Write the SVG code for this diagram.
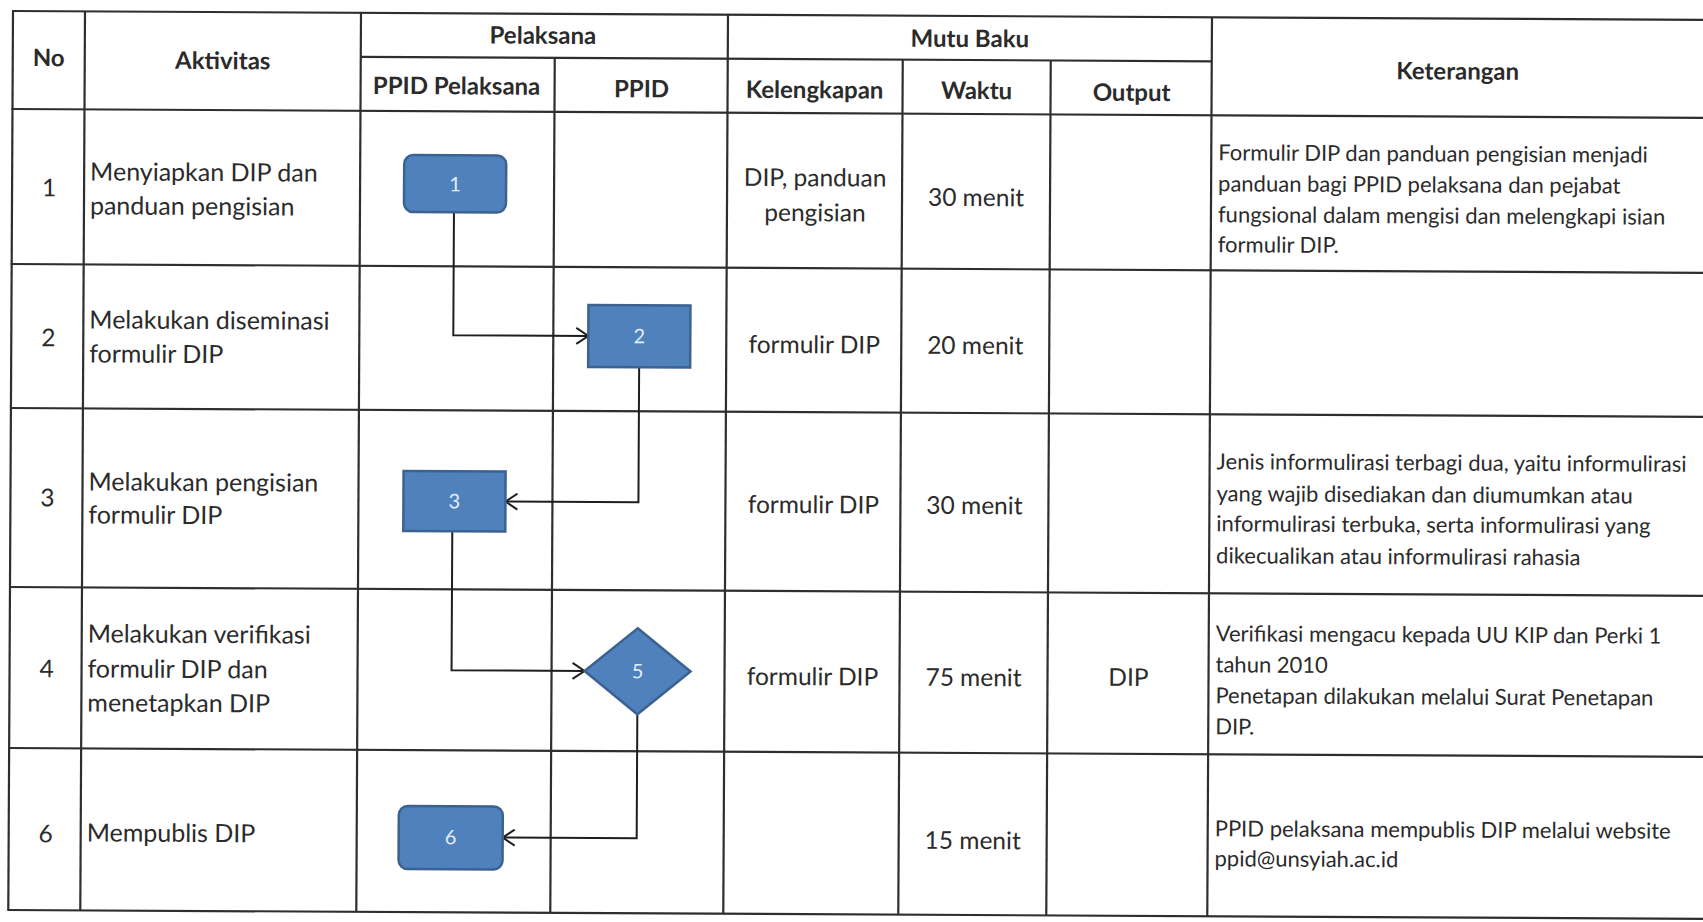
<svg xmlns="http://www.w3.org/2000/svg" width="1703" height="922" viewBox="0 0 1703 922">
<defs>
<style>
.grid line{stroke:#2e2e2e;stroke-width:2.2}
text{font-family:Lato,"Open Sans","Liberation Sans",sans-serif;fill:#2b2b2b}
.h{font-weight:bold;font-size:24px;text-anchor:middle}
.c{font-size:24.5px;text-anchor:middle}
.a{font-size:25px}
.k{font-size:22px}
.box{fill:#4f81bd;stroke:#3b6291;stroke-width:2.5}
.lbl{font-size:20px;fill:#e4ecf7;text-anchor:middle}
.conn path{fill:none;stroke:#1e1e1e;stroke-width:2;marker-end:url(#arr)}
</style>
<marker id="arr" markerUnits="userSpaceOnUse" markerWidth="16" markerHeight="18" refX="13" refY="9" orient="auto" viewBox="0 0 16 18"><path d="M1,1 L13,9 L1,17" fill="none" stroke="#1e1e1e" stroke-width="2"/></marker>
</defs>
<rect width="1703" height="922" fill="#fff"/>
<g transform="rotate(0.3 13 11)">
<g id="grid" class="grid">
<line x1="12" y1="11" x2="1720" y2="11"/>
<line x1="361" y1="55" x2="1212" y2="55"/>
<line x1="12" y1="109" x2="1720" y2="109"/>
<line x1="12" y1="264" x2="1720" y2="264"/>
<line x1="12" y1="408" x2="1720" y2="408"/>
<line x1="12" y1="587" x2="1720" y2="587"/>
<line x1="12" y1="748" x2="1720" y2="748"/>
<line x1="12" y1="910" x2="1720" y2="910"/>
<line x1="13" y1="11" x2="13" y2="910"/>
<line x1="85" y1="11" x2="85" y2="910"/>
<line x1="361" y1="11" x2="361" y2="910"/>
<line x1="555" y1="55" x2="555" y2="910"/>
<line x1="728" y1="11" x2="728" y2="910"/>
<line x1="903" y1="55" x2="903" y2="910"/>
<line x1="1051" y1="55" x2="1051" y2="910"/>
<line x1="1212" y1="11" x2="1212" y2="910"/>
</g>
<g id="header">
<text class="h" x="49" y="66">No</text>
<text class="h" x="223" y="68">Aktivitas</text>
<text class="h" x="543" y="41">Pelaksana</text>
<text class="h" x="970" y="42">Mutu Baku</text>
<text class="h" x="457" y="92">PPID Pelaksana</text>
<text class="h" x="642" y="94">PPID</text>
<text class="h" x="815" y="94">Kelengkapan</text>
<text class="h" x="977" y="94">Waktu</text>
<text class="h" x="1132" y="95">Output</text>
<text class="h" x="1458" y="72">Keterangan</text>
</g>
<g id="cells">
<text class="c" x="50" y="196">1</text>
<text class="c" x="50" y="346">2</text>
<text class="c" x="50" y="506">3</text>
<text class="c" x="50" y="677">4</text>
<text class="c" x="50" y="842">6</text>
<text class="a" x="91" y="180">Menyiapkan DIP dan</text>
<text class="a" x="91" y="214">panduan pengisian</text>
<text class="a" x="91" y="328">Melakukan diseminasi</text>
<text class="a" x="91" y="362">formulir DIP</text>
<text class="a" x="91" y="490">Melakukan pengisian</text>
<text class="a" x="91" y="523">formulir DIP</text>
<text class="a" x="91" y="642">Melakukan verifikasi</text>
<text class="a" x="91" y="677">formulir DIP dan</text>
<text class="a" x="91" y="711">menetapkan DIP</text>
<text class="a" x="91" y="841">Mempublis DIP</text>
<text class="c" x="816" y="182">DIP, panduan</text>
<text class="c" x="816" y="217">pengisian</text>
<text class="c" x="816" y="349">formulir DIP</text>
<text class="c" x="816" y="509">formulir DIP</text>
<text class="c" x="816" y="681">formulir DIP</text>
<text class="c" x="977" y="201">30 menit</text>
<text class="c" x="977" y="349">20 menit</text>
<text class="c" x="977" y="509">30 menit</text>
<text class="c" x="977" y="681">75 menit</text>
<text class="c" x="977" y="844">15 menit</text>
<text class="c" x="1132" y="680">DIP</text>
<text class="k" x="1219" y="154">Formulir DIP dan panduan pengisian menjadi</text>
<text class="k" x="1219" y="185">panduan bagi PPID pelaksana dan pejabat</text>
<text class="k" x="1219" y="216">fungsional dalam mengisi dan melengkapi isian</text>
<text class="k" x="1219" y="246">formulir DIP.</text>
<text class="k" x="1219" y="463">Jenis informulirasi terbagi dua, yaitu informulirasi</text>
<text class="k" x="1219" y="495">yang wajib disediakan dan diumumkan atau</text>
<text class="k" x="1219" y="525">informulirasi terbuka, serta informulirasi yang</text>
<text class="k" x="1219" y="557">dikecualikan atau informulirasi rahasia</text>
<text class="k" x="1219" y="635">Verifikasi mengacu kepada UU KIP dan Perki 1</text>
<text class="k" x="1219" y="666">tahun 2010</text>
<text class="k" x="1219" y="697">Penetapan dilakukan melalui Surat Penetapan</text>
<text class="k" x="1219" y="728">DIP.</text>
<text class="k" x="1219" y="830">PPID pelaksana mempublis DIP melalui website</text>
<text class="k" x="1219" y="860">ppid@unsyiah.ac.id</text>
</g>
<g id="connectors" class="conn">
<path d="M455,210 V333 H590"/>
<path d="M641,364 V499 H508"/>
<path d="M455,529 V668 H588"/>
<path d="M641,711 V835 H507"/>
</g>
<g id="n1"><rect class="box" x="405" y="153" width="102" height="57" rx="9"/><text class="lbl" x="456" y="189">1</text></g>
<g id="n2"><rect class="box" x="590" y="302" width="102" height="62"/><text class="lbl" x="641" y="340">2</text></g>
<g id="n3"><rect class="box" x="406" y="469" width="102" height="60"/><text class="lbl" x="457" y="506">3</text></g>
<g id="n5"><polygon class="box" points="641,625 694,668 641,711 588,668"/><text class="lbl" x="641" y="675">5</text></g>
<g id="n6"><rect class="box" x="403" y="804" width="104" height="63" rx="9"/><text class="lbl" x="455" y="842">6</text></g>
</g>
</svg>
